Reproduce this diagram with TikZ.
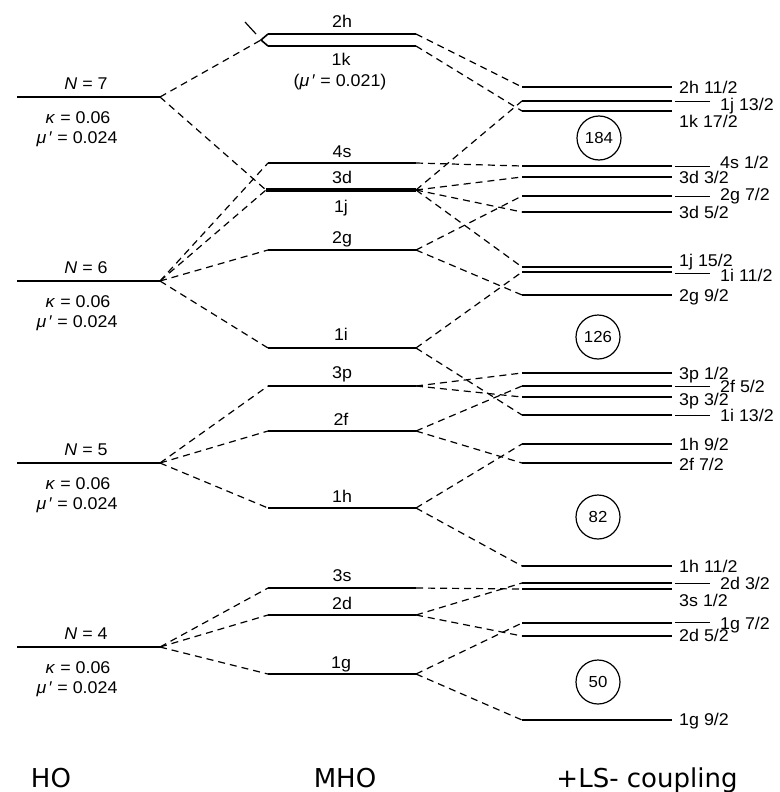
\documentclass[tikz,border=0pt]{standalone}
\usepackage{fontspec}
\setmainfont{Liberation Sans}[FakeStretch=1.05]
\newfontfamily\bigfont{DejaVu Sans}
\newcommand\lvl[5][]{\coordinate (#2L) at (#3,#5); \coordinate (#2R) at (#4,#5); \draw[level,#1] (#2L) -- (#2R);}
\begin{document}
\begin{tikzpicture}[x=1pt,y=-1pt,
  level/.style={line width=2.6pt},
  conn/.style={line width=1.2pt, dash pattern=on 7pt off 5pt},
  leader/.style={line width=0.6pt},
  lab/.style={font=\fontsize{17}{19}\selectfont, inner sep=0pt},
  magic/.style={draw, circle, line width=1.2pt, minimum size=44pt, inner sep=0pt, font=\fontsize{16}{18}\selectfont},
  axislab/.style={font=\bigfont\fontsize{26}{30}\selectfont, anchor=base, inner sep=0pt}]
\useasboundingbox (0,0) rectangle (779,792);

% ---------- HO levels ----------
\lvl{N7}{17}{160}{97}
\lvl{N6}{17}{160}{281}
\lvl{N5}{17}{160}{463}
\lvl{N4}{17}{160}{647}

\foreach \nn/\yy in {7/97,6/281,5/463,4/647}{
  \node[lab,anchor=base] (tN\nn) at (86,\yy-8) {\textit{N} = \nn};
  \node[lab,anchor=base] (kN\nn) at (78,\yy+26) {\textit{κ} = 0.06};
  \node[lab,anchor=base] (mN\nn) at (77,\yy+46) {\textit{μ}\,′ = 0.024};
}

% ---------- MHO levels ----------
\lvl{m2h}{268}{416}{34}
\lvl{m1k}{268}{416}{46}
\coordinate (k2h) at (261,40);
\draw[line width=1.6pt] (m2hL) -- (k2h) -- (m1kL);
\draw[line width=1.2pt] (245,22) -- (256,34);
\lvl{m4s}{268}{416}{163}
\lvl[line width=4.2pt]{m3d}{266}{416}{190}
\lvl{m2g}{268}{416}{250}
\lvl{m1i}{268}{416}{348}
\lvl{m3p}{268}{416}{386}
\lvl{m2f}{268}{416}{431}
\lvl{m1h}{268}{416}{508}
\lvl{m3s}{268}{416}{588}
\lvl{m2d}{268}{416}{615}
\lvl{m1g}{268}{416}{674}

\node[lab,anchor=base] (l2h) at (342,28) {2h};
\node[lab,anchor=base] (l1k) at (341,66) {1k};
\node[lab,anchor=base] (l1kmu) at (340,86) {(\textit{μ}\,′ = 0.021)};
\node[lab,anchor=base] (l4s) at (342,157) {4s};
\node[lab,anchor=base] (l3d) at (342,183) {3d};
\node[lab,anchor=base] (l1j) at (341,212) {1j};
\node[lab,anchor=base] (l2g) at (342,243) {2g};
\node[lab,anchor=base] (l1i) at (341,340) {1i};
\node[lab,anchor=base] (l3p) at (342,378) {3p};
\node[lab,anchor=base] (l2f) at (341,425) {2f};
\node[lab,anchor=base] (l1h) at (342,502) {1h};
\node[lab,anchor=base] (l3s) at (342,581) {3s};
\node[lab,anchor=base] (l2d) at (342,609) {2d};
\node[lab,anchor=base] (l1g) at (341,668) {1g};

% ---------- LS levels ----------
\foreach \nm/\yy in {r2hA/87, r1jA/101, r1kA/111, r4sA/166, r3dA/177, r2gA/196, r3dB/212,
  r1jB/267, r1iA/272, r2gB/295, r3pA/373, r2fA/386, r3pB/397, r1iB/415, r1hA/444, r2fB/463,
  r1hB/566, r2dA/583, r3sA/589, r1gA/623, r2dB/636, r1gB/720}{
  \coordinate (\nm L) at (522,\yy); \coordinate (\nm R) at (672,\yy);
  \draw[level] (\nm L) -- (\nm R);
}

% direct labels
\foreach \tx/\yy in {{2h 11/2}/93, {1k 17/2}/127, {3d 3/2}/183, {3d 5/2}/218, {1j 15/2}/266, {2g 9/2}/301,
  {3p 1/2}/379, {3p 3/2}/405, {1h 9/2}/450, {2f 7/2}/470, {1h 11/2}/572, {3s 1/2}/606, {2d 5/2}/641, {1g 9/2}/725}{
  \node[lab,anchor=base west] at (679,\yy) {\tx};
}
% offset labels with leaders
\foreach \tx/\ly/\yy in {{1j 13/2}/101/110, {4s 1/2}/166/168, {2g 7/2}/196/200, {1i 11/2}/273/281,
  {2f 5/2}/386/392, {1i 13/2}/415/421, {2d 3/2}/583/589, {1g 7/2}/622/629}{
  \draw[leader] (675,\ly) -- (710,\ly);
  \node[lab,anchor=base west] at (720,\yy) {\tx};
}

% magic numbers
\node[magic] (c184) at (599,138) {184};
\node[magic] (c126) at (598,337) {126};
\node[magic] (c82) at (598,517) {82};
\node[magic] (c50) at (598,682) {50};

% ---------- connectors HO -> MHO ----------
\draw[conn] (N7R) -- (k2h);
\draw[conn] (N7R) -- (m3dL);
\foreach \t in {m4s,m3d,m2g,m1i} \draw[conn] (N6R) -- (\t L);
\foreach \t in {m3p,m2f,m1h} \draw[conn] (N5R) -- (\t L);
\foreach \t in {m3s,m2d,m1g} \draw[conn] (N4R) -- (\t L);

% ---------- connectors MHO -> LS ----------
\foreach \s/\t in {m2h/r2hA, m1k/r1kA, m3d/r1jA, m3d/r3dA, m3d/r3dB, m3d/r1jB, m4s/r4sA,
  m2g/r2gA, m2g/r2gB, m1i/r1iA, m1i/r1iB, m3p/r3pA, m3p/r3pB, m2f/r2fA, m2f/r2fB,
  m1h/r1hA, m1h/r1hB, m3s/r3sA, m2d/r2dA, m2d/r2dB, m1g/r1gA, m1g/r1gB}
  \draw[conn] (\s R) -- (\t L);

% ---------- column titles ----------
\node[axislab] (tHO) at (51,787) {HO};
\node[axislab] (tMHO) at (345,787) {MHO};
\node[axislab] (tLS) at (647,787) {+LS- coupling};
\end{tikzpicture}
\end{document}
